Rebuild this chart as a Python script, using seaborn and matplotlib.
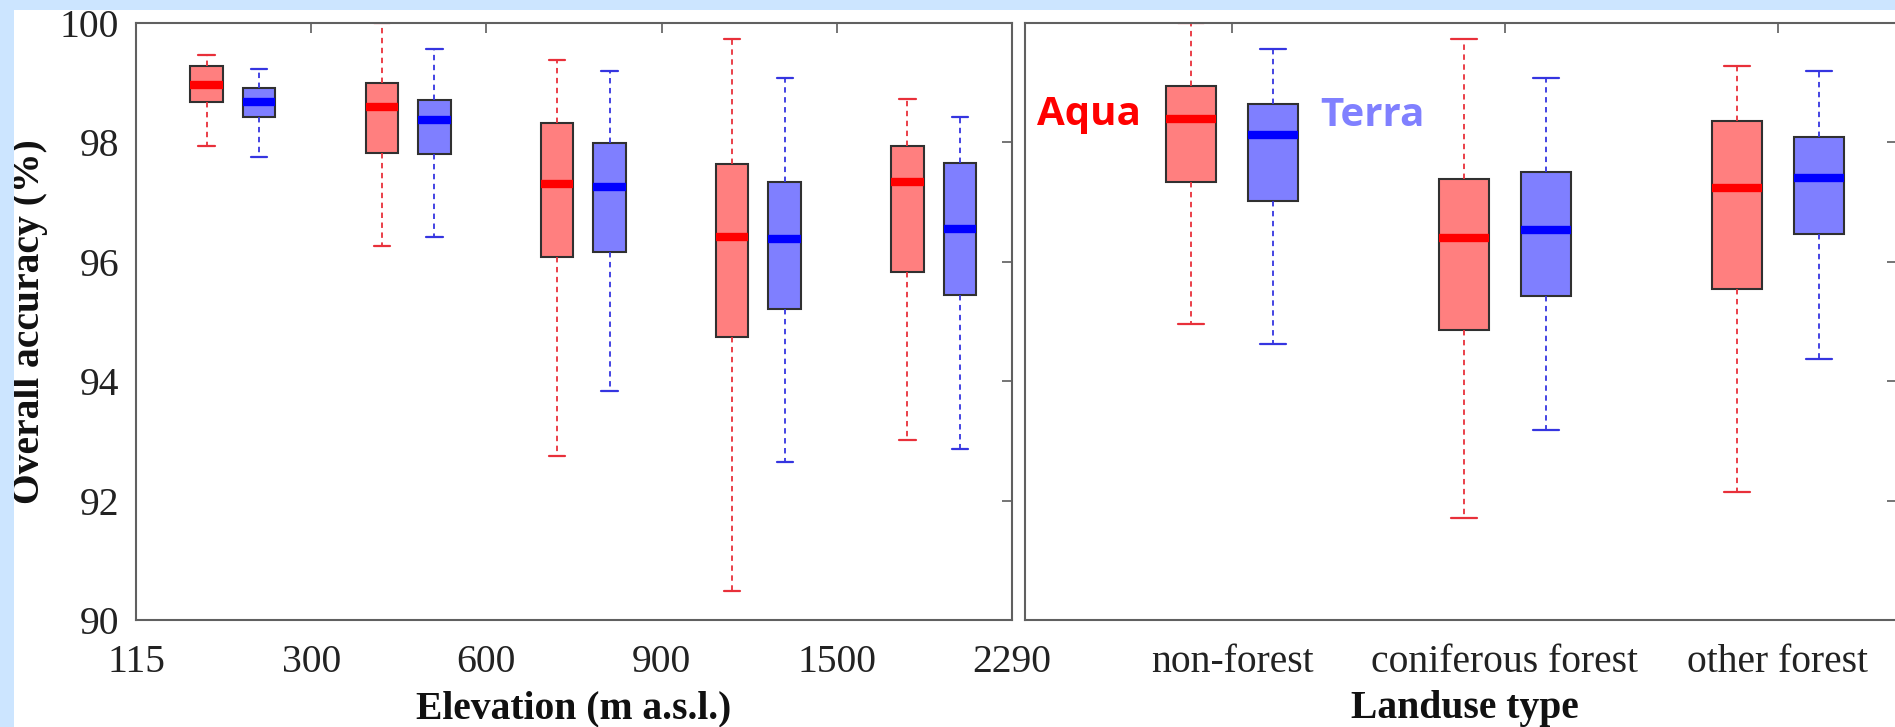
import numpy as np
import pandas as pd
import matplotlib
matplotlib.use("Agg")
import matplotlib.pyplot as plt
from matplotlib.patches import Rectangle
import seaborn as sns

# ---------------- data ----------------
elev_bins = ["115-300", "300-600", "600-900", "900-1500", "1500-2290"]
elev_edge_labels = ["115", "300", "600", "900", "1500", "2290"]

aqua_elev_low  = [97.94, 96.27, 92.74, 90.49, 93.02]
aqua_elev_q1   = [98.68, 97.82, 96.08, 94.74, 95.83]
aqua_elev_med  = [98.96, 98.59, 97.30, 96.42, 97.34]
aqua_elev_q3   = [99.28, 99.00, 98.32, 97.63, 97.94]
aqua_elev_high = [99.46, 100.0, 99.38, 99.73, 98.73]

terra_elev_low  = [97.76, 96.42, 93.84, 92.65, 92.86]
terra_elev_q1   = [98.43, 97.80, 96.16, 95.21, 95.45]
terra_elev_med  = [98.68, 98.38, 97.26, 96.39, 96.55]
terra_elev_q3   = [98.91, 98.71, 97.99, 97.34, 97.65]
terra_elev_high = [99.23, 99.56, 99.20, 99.08, 98.43]

landuse = ["non-forest", "coniferous forest", "other forest"]

aqua_land_low  = [94.95, 91.71, 92.14]
aqua_land_q1   = [97.34, 94.85, 95.54]
aqua_land_med  = [98.40, 96.40, 97.23]
aqua_land_q3   = [98.95, 97.38, 98.36]
aqua_land_high = [100.0, 99.73, 99.28]

terra_land_low  = [94.62, 93.18, 94.37]
terra_land_q1   = [97.02, 95.42, 96.46]
terra_land_med  = [98.12, 96.54, 97.40]
terra_land_q3   = [98.65, 97.50, 98.09]
terra_land_high = [99.56, 99.08, 99.20]

series = ["Aqua", "Terra"]
y_ticks = [90, 92, 94, 96, 98, 100]


def long_frame(cats, col, stats_by_series):
    rows = []
    for sname, (lo, q1, me, q3, hi) in stats_by_series.items():
        for i, c in enumerate(cats):
            for v in (lo[i], q1[i], me[i], q3[i], hi[i]):
                rows.append({col: c, "Satellite": sname, "Accuracy": v})
    return pd.DataFrame(rows)


df_elev = long_frame(elev_bins, "Elevation", {
    "Aqua": (aqua_elev_low, aqua_elev_q1, aqua_elev_med, aqua_elev_q3, aqua_elev_high),
    "Terra": (terra_elev_low, terra_elev_q1, terra_elev_med, terra_elev_q3, terra_elev_high),
})
df_land = long_frame(landuse, "Landuse", {
    "Aqua": (aqua_land_low, aqua_land_q1, aqua_land_med, aqua_land_q3, aqua_land_high),
    "Terra": (terra_land_low, terra_land_q1, terra_land_med, terra_land_q3, terra_land_high),
})

# ---------------- style ----------------
sns.set_theme(style="white")
plt.rcParams["font.family"] = ["Liberation Serif", "DejaVu Serif"]
plt.rcParams["axes.edgecolor"] = "#606060"
plt.rcParams["axes.linewidth"] = 1.5

face = {"Aqua": "#FF7F7F", "Terra": "#7F7FFF"}
strong = {"Aqua": "#FF0000", "Terra": "#0000FF"}
whisk = {"Aqua": "#E8303A", "Terra": "#3535E0"}

W, H = 1895, 727
fig = plt.figure(figsize=(W / 100, H / 100), dpi=100, facecolor="white")

# light-blue frame (top and left bands)
fig.patches.append(Rectangle((0, (H - 10) / H), 1, 10 / H, transform=fig.transFigure,
                             facecolor="#CCE5FF", edgecolor="none", zorder=0))
fig.patches.append(Rectangle((0, 0), 14 / W, 1, transform=fig.transFigure,
                             facecolor="#CCE5FF", edgecolor="none", zorder=0))

ax_bot, ax_top = 620, 23
axL = fig.add_axes([136 / W, (H - ax_bot) / H, (1012 - 136) / W, (ax_bot - ax_top) / H])
axR = fig.add_axes([1025 / W, (H - ax_bot) / H, (1897 - 1025) / W, (ax_bot - ax_top) / H])

box_kw = dict(y="Accuracy", hue="Satellite", hue_order=series, palette=face,
              saturation=1, width=0.6, gap=0.38, whis=(0, 100), fliersize=0,
              linecolor="#303030", linewidth=1.5, legend=False)

sns.boxplot(data=df_elev, x="Elevation", order=elev_bins, ax=axL, **box_kw)
sns.boxplot(data=df_land, x="Landuse", order=landuse, ax=axR, **box_kw)

TICK_FS = 28.5
LABEL_FS = 28.5

for ax in (axL, axR):
    for cont, s in zip(ax.containers, series):
        for ln in cont.medians:
            ln.set_color(strong[s])
            ln.set_linewidth(6)
            ln.set_solid_capstyle("butt")
        for ln in cont.whiskers:
            ln.set_color(whisk[s])
            ln.set_linestyle((0, (3, 2.5)))
            ln.set_linewidth(1.3)
        for ln in cont.caps:
            ln.set_color(whisk[s])
            ln.set_linewidth(1.6)
    ax.set_ylim(90, 100)
    ax.set_yticks(y_ticks)
    ax.tick_params(axis="both", which="both", direction="in", length=7, width=1.1,
                   color="#505050", top=True, right=True, labelsize=TICK_FS,
                   labelcolor="#222222")
    ax.tick_params(axis="y", pad=12)
    ax.tick_params(axis="x", pad=17)
    ax.grid(False)
    for sp in ax.spines.values():
        sp.set_visible(True)
        sp.set_color("#606060")
        sp.set_linewidth(1.5)

# left panel: bin-edge ticks
axL.set_xlim(-0.553, 4.447)
axL.set_xticks(np.arange(len(elev_edge_labels)) - 0.553)
axL.set_xticklabels(elev_edge_labels)
axL.set_yticklabels([str(t) for t in y_ticks])
axL.set_xlabel("Elevation (m a.s.l.)", fontsize=LABEL_FS, fontweight="bold", color="#111111")
axL.xaxis.set_label_coords(0.5, -0.118)
axL.xaxis.label.set_verticalalignment("top")
axL.set_ylabel("Overall accuracy (%)", fontsize=LABEL_FS, fontweight="bold", color="#111111")
axL.yaxis.set_label_coords(-0.1, 0.5)

# right panel
axR.set_xlim(-0.758, 2.436)
axR.set_xticks(range(len(landuse)))
axR.set_xticklabels(landuse)
axR.set_yticklabels([])
axR.set_ylabel("")
axR.set_xlabel("Landuse type", fontsize=LABEL_FS, fontweight="bold", color="#111111")
axR.xaxis.set_label_coords((1465 - 1025) / (1897 - 1025), -0.118)
axR.xaxis.label.set_verticalalignment("top")

axR.text(0.014, 0.829, "Aqua", transform=axR.transAxes, color="#FF0000",
         fontsize=29, fontweight="bold", family=["Open Sans", "DejaVu Sans"], va="baseline")
axR.text(0.339, 0.827, "Terra", transform=axR.transAxes, color="#8080FF",
         fontsize=29, fontweight="bold", family=["Open Sans", "DejaVu Sans"], va="baseline")

fig.savefig("out.png", dpi=100, facecolor="white")
